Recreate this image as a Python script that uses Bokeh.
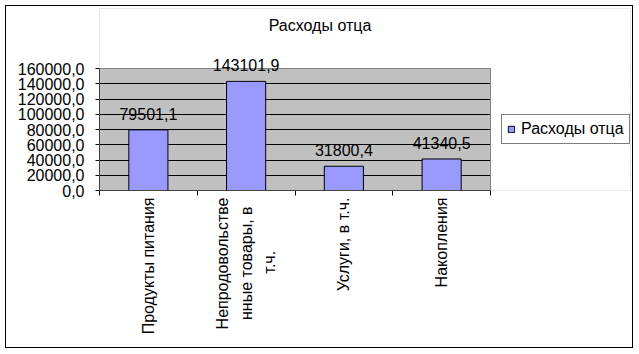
import math
from bokeh.plotting import figure
from bokeh.models import (ColumnDataSource, FixedTicker, Label, Legend, LegendItem, BoxAnnotation)
from bokeh.embed import file_html
from bokeh.resources import INLINE

categories = ["Продукты питания", "Непродовольстве\nнные товары, в\nт.ч.", "Услуги, в т.ч.", "Накопления"]
values = [79501.1, 143101.9, 31800.4, 41340.5]
y_ticks = [0, 20000, 40000, 60000, 80000, 100000, 120000, 140000, 160000]
series_name = "Расходы отца"
title_text = "Расходы отца"

FONT = "Liberation Sans"
FS = "16px"
NB = "\u00a0"

# layout (canvas pixels): plot area spans x 99..490, y 68..190;
# the frame is extended to x 630 / y 8 so that title, labels and legend are not clipped
PLOT_LEFT, PLOT_RIGHT, FRAME_RIGHT = 99, 490, 630
PLOT_TOP, PLOT_BOTTOM, FRAME_TOP = 68, 190, 8
n = len(categories)
y_max = y_ticks[-1]
y_end = y_max * (PLOT_BOTTOM - FRAME_TOP) / (PLOT_BOTTOM - PLOT_TOP)
x_end = n * (FRAME_RIGHT - PLOT_LEFT) / (PLOT_RIGHT - PLOT_LEFT)

xs = [i + 0.5 for i in range(n)]
labels = [f"{v:.1f}".replace(".", ",") for v in values]
src = ColumnDataSource(dict(x=xs, top=values, label=labels))


def _em(ch):
    if ch in " .,:;":
        return 0.278
    if ch in "жшщмыюЖШЩМЫЮ":
        return 0.72
    if ch.isupper():
        return 0.667
    return 0.545


def center_lines(text):
    # axis labels are end-aligned; pad shorter lines with no-break spaces so they appear centred
    lines = text.split("\n")
    if len(lines) == 1:
        return text
    widths = [sum(_em(c) for c in l) for l in lines]
    wmax = max(widths)
    return "\n".join(l + NB * int(round((wmax - w) / 2 / 0.278)) for l, w in zip(lines, widths))


p = figure(width=626, height=341, x_range=(0, x_end), y_range=(0, y_end),
           title=None, output_backend="svg", toolbar_location=None,
           min_border_left=PLOT_LEFT - 6, min_border_right=632 - FRAME_RIGHT,
           min_border_top=FRAME_TOP - 6, min_border_bottom=347 - PLOT_BOTTOM)
p.margin = (6, 0, 0, 6)
p.styles = {"outline": "1px solid black"}

p.background_fill_color = "#C0C0C0"
p.border_fill_color = "white"
p.outline_line_color = None

p.xgrid.grid_line_color = None
p.ygrid.ticker = FixedTicker(ticks=y_ticks)
p.ygrid.grid_line_color = "black"

# white covers outside the plot area (frame extension)
p.add_layout(BoxAnnotation(left=0, right=x_end, bottom=y_max, top=y_end,
                           fill_color="white", fill_alpha=1, line_color=None, level="underlay"))
p.add_layout(BoxAnnotation(left=n, right=x_end, bottom=0, top=y_end,
                           fill_color="white", fill_alpha=1, line_color=None, level="underlay"))
# plot-area border
p.add_layout(BoxAnnotation(left=0, right=n, bottom=0, top=y_max,
                           fill_alpha=0, line_color="#808080", line_width=1, line_alpha=1))

r = p.vbar(x="x", top="top", width=0.4, source=src, fill_color="#9999FF", line_color="black", line_width=1)

# y axis
p.yaxis.ticker = FixedTicker(ticks=y_ticks)
p.yaxis.bounds = (0, y_max)
p.yaxis.major_label_overrides = {t: f"{t},0" for t in y_ticks}
p.yaxis.major_label_text_font = FONT
p.yaxis.major_label_text_font_size = FS
p.yaxis.major_label_text_color = "black"
p.yaxis.major_tick_out = 4
p.yaxis.major_tick_in = 0
p.yaxis.minor_tick_line_color = None
p.yaxis.major_label_standoff = 11
p.yaxis.axis_line_color = "black"

# x axis
p.xaxis.ticker = FixedTicker(ticks=xs, minor_ticks=list(range(n + 1)))
p.xaxis.bounds = (0, n)
p.xaxis.major_label_overrides = {x: center_lines(c) for x, c in zip(xs, categories)}
p.xaxis.major_label_orientation = math.pi / 2
p.xaxis.major_label_text_font = FONT
p.xaxis.major_label_text_font_size = FS
p.xaxis.major_label_text_color = "black"
p.xaxis.major_label_text_line_height = 1.4
p.xaxis.major_tick_line_color = None
p.xaxis.major_tick_out = 0
p.xaxis.major_tick_in = 0
p.xaxis.minor_tick_out = 5
p.xaxis.minor_tick_in = 0
p.xaxis.minor_tick_line_color = "black"
p.xaxis.major_label_standoff = 2
p.xaxis.axis_line_color = "black"

for x, v, t in zip(xs, values, labels):
    p.add_layout(Label(x=x, y=v, text=t, y_offset=16, text_align="center", text_baseline="alphabetic",
                       text_font=FONT, text_font_size=FS, text_color="black"))

# chart title, centred over the whole chart
p.add_layout(Label(x=n / 2, y=y_max, text=title_text, x_offset=25, y_offset=43,
                   text_align="center", text_baseline="alphabetic",
                   text_font=FONT, text_font_size=FS, text_color="black"))

legend = Legend(items=[LegendItem(label=series_name, renderers=[r])],
                location=(501 - PLOT_LEFT, PLOT_BOTTOM - 144), border_line_color="black", border_line_width=1,
                padding=5, margin=0, spacing=0, glyph_width=8, glyph_height=8,
                label_standoff=6, label_text_font=FONT, label_text_font_size=FS,
                label_text_color="black", background_fill_color="white", background_fill_alpha=1)
p.add_layout(legend, "center")

open("out.html", "w").write(file_html(p, INLINE))
